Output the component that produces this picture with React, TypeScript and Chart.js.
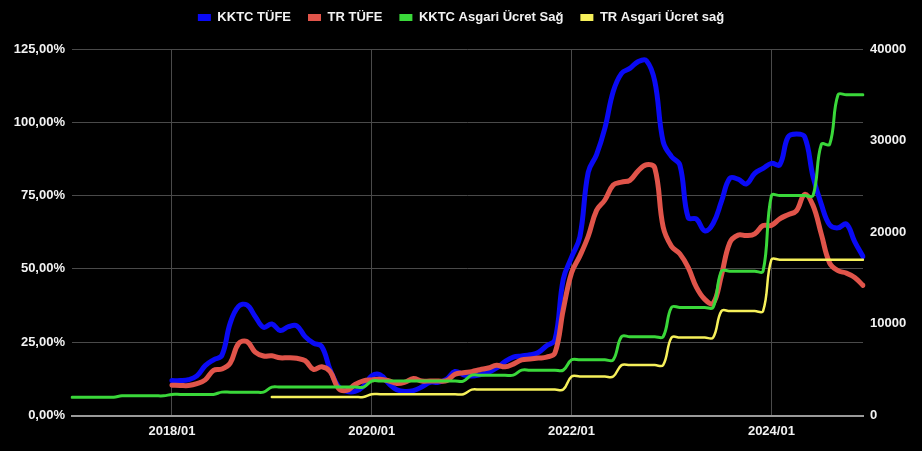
import React, { useEffect, useRef } from "react";
import { Chart, registerables } from "chart.js";

Chart.register(...registerables);

const years = [2017, 2018, 2019, 2020, 2021, 2022, 2023, 2024];
const monthLabels: string[] = [];
for (const y of years) {
  for (let m = 1; m <= 12; m++) monthLabels.push(`${y}/${m < 10 ? "0" + m : m}`);
}

// KKTC TÜFE (%), 2018/01 .. 2024/12
const kktcTufe: (number | null)[] = [
  null, null, null, null, null, null, null, null, null, null, null, null,
  11.9, 11.9, 12.2, 13.5, 17.0, 19.0, 20.5, 31.5, 37.2, 37.7, 33.8, 30.1,
  31.2, 29.0, 30.3, 30.6, 26.9, 24.7, 23.5, 15.6, 9.9, 8.2, 8.2, 9.9,
  13.5, 13.9, 11.0, 8.8, 8.2, 8.5, 9.7, 11.3, 11.3, 12.4, 15.0, 13.9,
  13.5, 13.9, 14.7, 16.2, 18.4, 19.9, 20.3, 20.7, 21.5, 23.8, 25.8, 46.5,
  54.0, 61.0, 83.0, 89.0, 98.0, 110.5, 116.7, 118.4, 120.7, 121.0, 113.9, 93.4,
  88.3, 85.5, 67.5, 67.0, 63.0, 65.5, 73.0, 80.9, 80.6, 79.0, 82.6, 84.3,
  86.0, 85.5, 95.0, 96.0, 95.0, 81.5, 72.0, 65.0, 64.0, 65.3, 59.3, 54.2,
];

// TR TÜFE (%)
const trTufe: (number | null)[] = [
  null, null, null, null, null, null, null, null, null, null, null, null,
  10.35, 10.26, 10.23, 10.85, 12.15, 15.39, 15.85, 17.9, 24.52, 25.24, 21.62, 20.3,
  20.35, 19.67, 19.71, 19.5, 18.71, 15.72, 16.65, 15.01, 9.26, 8.55, 10.56, 11.84,
  12.15, 12.37, 11.86, 10.94, 11.39, 12.62, 11.76, 11.77, 11.75, 11.89, 14.03, 14.6,
  14.97, 15.61, 16.19, 17.14, 16.59, 17.53, 18.95, 19.25, 19.58, 19.89, 21.31, 36.08,
  48.69, 54.44, 61.14, 69.97, 73.5, 78.62, 79.6, 80.21, 83.45, 85.51, 84.39, 64.27,
  57.68, 55.18, 50.51, 43.68, 39.59, 38.21, 47.83, 58.94, 61.53, 61.36, 61.98, 64.77,
  64.86, 67.07, 68.5, 69.8, 75.45, 71.6, 61.78, 51.97, 49.38, 48.58, 47.09, 44.38,
];

// KKTC Asgari Ücret (TL, right axis)
const kktcAsgari: (number | null)[] = [
  2000, 2000, 2000, 2000, 2000, 2000, 2150, 2150, 2150, 2150, 2150, 2150,
  2300, 2300, 2300, 2300, 2300, 2300, 2550, 2550, 2550, 2550, 2550, 2550,
  3100, 3100, 3100, 3100, 3100, 3100, 3100, 3100, 3100, 3100, 3100, 3100,
  3760, 3760, 3760, 3760, 3760, 3760, 3760, 3760, 3760, 3760, 3760, 3760,
  4400, 4400, 4400, 4400, 4400, 4400, 4950, 4950, 4950, 4950, 4950, 4950,
  6080, 6080, 6080, 6080, 6080, 6080, 8600, 8600, 8600, 8600, 8600, 8600,
  11800, 11800, 11800, 11800, 11800, 11800, 15750, 15750, 15750, 15750, 15750, 15750,
  24000, 24000, 24000, 24000, 24000, 24000, 29600, 29600, 35000, 35000, 35000, 35000,
];

// TR Asgari Ücret (TL, right axis)
const trAsgari: (number | null)[] = [
  null, null, null, null, null, null, null, null, null, null, null, null,
  null, null, null, null, null, null, null, null, null, null, null, null,
  2020.9, 2020.9, 2020.9, 2020.9, 2020.9, 2020.9, 2020.9, 2020.9, 2020.9, 2020.9, 2020.9, 2020.9,
  2324.71, 2324.71, 2324.71, 2324.71, 2324.71, 2324.71, 2324.71, 2324.71, 2324.71, 2324.71, 2324.71, 2324.71,
  2825.9, 2825.9, 2825.9, 2825.9, 2825.9, 2825.9, 2825.9, 2825.9, 2825.9, 2825.9, 2825.9, 2825.9,
  4253.4, 4253.4, 4253.4, 4253.4, 4253.4, 4253.4, 5500.35, 5500.35, 5500.35, 5500.35, 5500.35, 5500.35,
  8506.8, 8506.8, 8506.8, 8506.8, 8506.8, 8506.8, 11402.32, 11402.32, 11402.32, 11402.32, 11402.32, 11402.32,
  17002.12, 17002.12, 17002.12, 17002.12, 17002.12, 17002.12, 17002.12, 17002.12, 17002.12, 17002.12, 17002.12, 17002.12,
];

const leftTicks = [0, 25, 50, 75, 100, 125];
const rightTicks = [0, 10000, 20000, 30000, 40000];
const shownXLabels = ["2018/01", "2020/01", "2022/01", "2024/01"];

const FONT = "'Liberation Sans', Arial, sans-serif";

export default function App() {
  const ref = useRef<HTMLCanvasElement | null>(null);

  useEffect(() => {
    document.body.style.margin = "0";
    document.body.style.background = "#000";
    const canvas = ref.current;
    if (!canvas) return;

    const legendTweak = {
      id: "legendTweak",
      beforeInit(chart: any) {
        const legend = chart.legend;
        if (!legend) return;
        const origFit = legend.fit;
        legend.fit = function () {
          origFit.call(this);
          this.height = 49;
        };
        const origDraw = legend.draw;
        legend.draw = function () {
          const ctx = this.ctx;
          ctx.save();
          ctx.translate(0, -6);
          origDraw.call(this);
          ctx.restore();
        };
      },
    };

    const chart = new Chart(canvas, {
      type: "line",
      data: {
        labels: monthLabels,
        datasets: [
          {
            label: "KKTC TÜFE",
            data: kktcTufe,
            borderColor: "#0a0af5",
            backgroundColor: "#0a0af5",
            borderWidth: 5,
            yAxisID: "y",
            order: 4,
          },
          {
            label: "TR TÜFE",
            data: trTufe,
            borderColor: "#e0544a",
            backgroundColor: "#e0544a",
            borderWidth: 5,
            yAxisID: "y",
            order: 3,
          },
          {
            label: "KKTC Asgari Ücret Sağ",
            data: kktcAsgari,
            borderColor: "#3ad83a",
            backgroundColor: "#3ad83a",
            borderWidth: 3,
            yAxisID: "y1",
            order: 2,
          },
          {
            label: "TR Asgari Ücret sağ",
            data: trAsgari,
            borderColor: "#f6f05a",
            backgroundColor: "#f6f05a",
            borderWidth: 2.5,
            yAxisID: "y1",
            order: 1,
          },
        ],
      },
      options: {
        animation: false,
        responsive: true,
        maintainAspectRatio: false,
        layout: { padding: 0 },
        elements: {
          point: { radius: 0, hoverRadius: 0 },
          line: { tension: 0.4, borderCapStyle: "round", borderJoinStyle: "round" },
        },
        plugins: {
          tooltip: { enabled: false },
          legend: {
            position: "top",
            labels: {
              color: "#f2f2f2",
              boxWidth: 13,
              boxHeight: 7,
              padding: 17,
              font: { family: FONT, size: 13, weight: "bold" },
              sort: (a: any, b: any) => a.datasetIndex - b.datasetIndex,
              generateLabels: (chart: any) =>
                Chart.defaults.plugins.legend.labels
                  .generateLabels(chart)
                  .map((item: any) => ({ ...item, lineWidth: 0, strokeStyle: "rgba(0,0,0,0)" })),
            },
          },
        },
        scales: {
          x: {
            type: "category",
            offset: false,
            afterFit: (s: any) => {
              s.height = 35.5;
            },
            grid: { color: "#4a4a4a", drawTicks: false, lineWidth: 1 },
            border: { display: true, color: "#9a9a9a", width: 2 },
            ticks: {
              autoSkip: false,
              maxRotation: 0,
              minRotation: 0,
              padding: 8,
              color: "#f2f2f2",
              font: { family: FONT, size: 13, weight: "bold" },
              callback: function (_v: any, index: number) {
                const l = monthLabels[index];
                return shownXLabels.includes(l) ? l : null;
              },
            },
          },
          y: {
            type: "linear",
            position: "left",
            min: leftTicks[0],
            max: leftTicks[leftTicks.length - 1],
            afterFit: (s: any) => {
              s.width = 72;
            },
            afterBuildTicks: (s: any) => {
              s.ticks = leftTicks.map((v) => ({ value: v }));
            },
            grid: { color: "#4a4a4a", drawTicks: false, lineWidth: 1 },
            border: { display: false },
            ticks: {
              padding: 7,
              color: "#f2f2f2",
              font: { family: FONT, size: 13, weight: "bold" },
              callback: (v: any) => Number(v).toFixed(2).replace(".", ",") + "%",
            },
          },
          y1: {
            type: "linear",
            position: "right",
            min: rightTicks[0],
            max: rightTicks[rightTicks.length - 1],
            afterFit: (s: any) => {
              s.width = 59;
            },
            afterBuildTicks: (s: any) => {
              s.ticks = rightTicks.map((v) => ({ value: v }));
            },
            grid: { display: false, drawTicks: false },
            border: { display: false },
            ticks: {
              padding: 7,
              color: "#f2f2f2",
              font: { family: FONT, size: 13, weight: "bold" },
              callback: (v: any) => String(v),
            },
          },
        },
      },
      plugins: [legendTweak],
    });

    return () => chart.destroy();
  }, []);

  return (
    <div
      style={{
        position: "fixed",
        left: 0,
        top: 0,
        width: 922,
        height: 451,
        background: "#000",
      }}
    >
      <canvas ref={ref} />
    </div>
  );
}
